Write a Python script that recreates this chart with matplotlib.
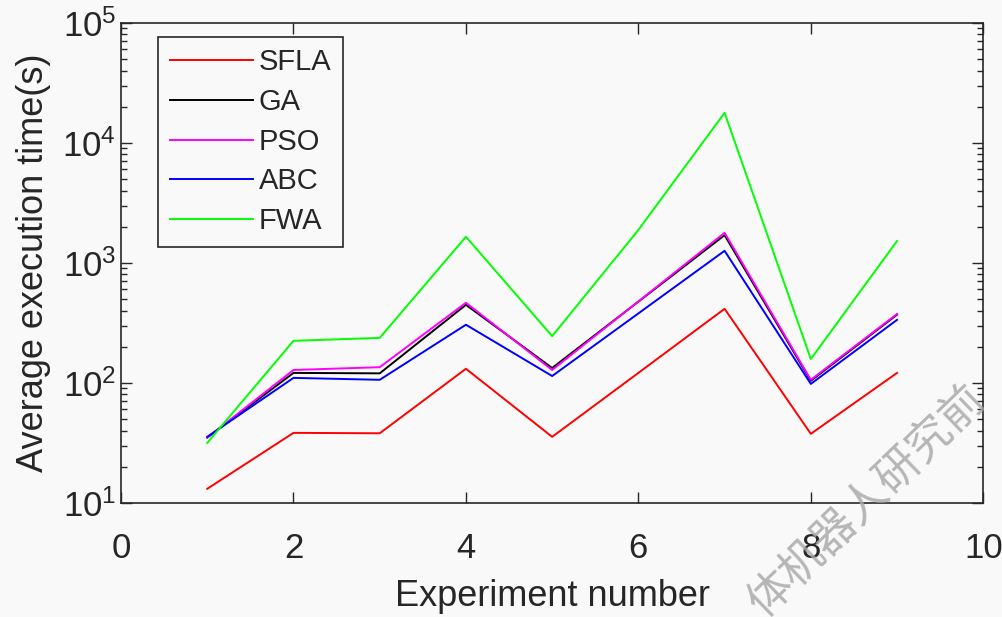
import matplotlib
matplotlib.use('Agg')
import matplotlib.pyplot as plt
import numpy as np

plt.rcParams['font.family'] = ['Liberation Sans', 'Noto Sans CJK SC', 'DejaVu Sans']
plt.rcParams['mathtext.fontset'] = 'custom'
plt.rcParams['mathtext.rm'] = 'Liberation Sans'
plt.rcParams['mathtext.it'] = 'Liberation Sans'

# experiment numbers and average execution times (s)
experiments = [1, 2, 3, 4, 5, 6, 7, 8, 9]
sfla = [13.1, 38.3, 38.0, 131, 35.5, 121, 414, 37.6, 121]
ga = [35.0, 121, 120, 447, 133, 475, 1700, 104, 370]
pso = [35.0, 128, 135, 465, 128, 477, 1780, 106, 375]
abc = [35.5, 110, 106, 305, 114, 379, 1260, 98, 335]
fwa = [31.6, 224, 237, 1650, 245, 1880, 17800, 158, 1520]

names = ['SFLA', 'GA', 'PSO', 'ABC', 'FWA']
colors = ['#ff0000', '#000000', '#ff00ff', '#0000ff', '#00ff00']

fig = plt.figure(figsize=(10.02, 6.17), dpi=100)
fig.patch.set_facecolor('#f9f9f9')
ax = fig.add_axes([0.1208, 0.185, 0.8605, 0.778])
ax.set_facecolor('#f9f9f9')

for vals, name, c in zip([sfla, ga, pso, abc, fwa], names, colors):
    ax.plot(experiments, vals, color=c, lw=1.4, label=name)

ax.set_yscale('log')
ax.set_xlim(0, 10)
ax.set_ylim(10, 1e5)
ax.set_xticks([0, 2, 4, 6, 8, 10])
ax.tick_params(which='both', direction='in', top=True, right=True, labelsize=25, colors='#262626')
ax.tick_params(which='major', length=8, width=1)
ax.tick_params(which='minor', length=4, width=1)
ax.tick_params(axis='x', pad=21)
for s in ax.spines.values():
    s.set_color('#262626')
    s.set_linewidth(1.2)

ax.set_xlabel('Experiment number', fontsize=26, color='#262626', labelpad=10)
ax.set_ylabel('Average execution time(s)', fontsize=26, color='#262626', labelpad=8)

leg = ax.legend(loc='upper left', bbox_to_anchor=(0.043, 0.971), fontsize=21,
                handlelength=2.85, handletextpad=0.2, labelspacing=0.4,
                borderaxespad=0, borderpad=0.4, fancybox=False, framealpha=1,
                facecolor='#f9f9f9', edgecolor='#262626')
leg.get_frame().set_linewidth(1.2)
for t in leg.get_texts():
    t.set_color('#262626')

# watermark, partly cut by the picture edge as in the source
fig.text(0.768, -0.012, '体机器人研究前', fontsize=32, color='#aaaaaa', alpha=0.85,
         rotation=44, ha='left', va='bottom', rotation_mode='anchor')

fig.savefig('out.png', dpi=100, facecolor=fig.get_facecolor())
